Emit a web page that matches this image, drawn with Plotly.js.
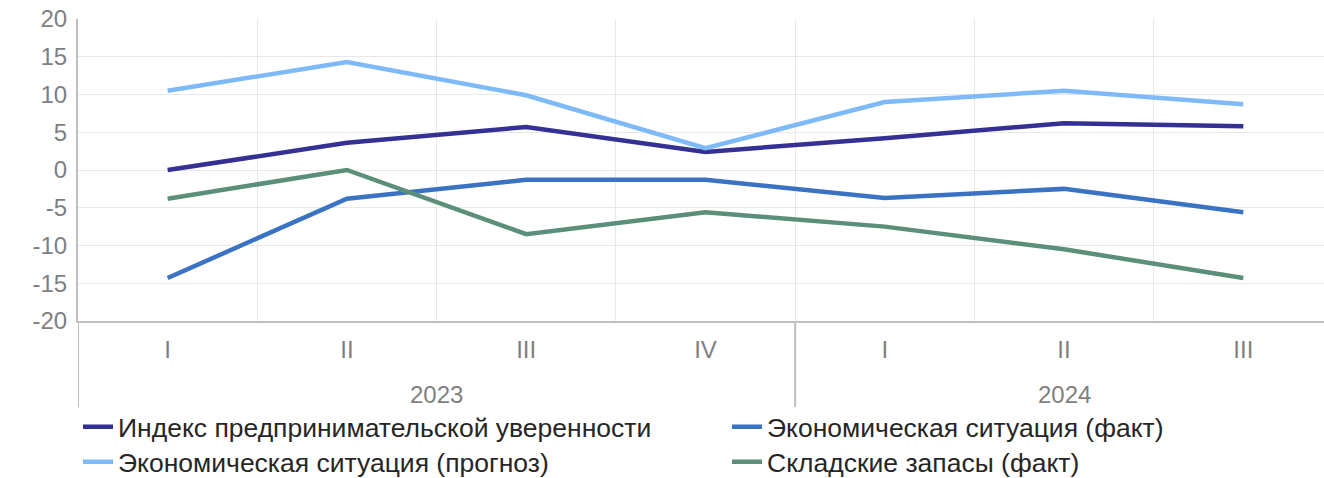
<!DOCTYPE html>
<html>
<head>
<meta charset="utf-8">
<script src="https://cdn.plot.ly/plotly-3.0.1.min.js"></script>
<style>html,body{margin:0;padding:0;background:#fff;}#chart{width:1324px;height:478px;}</style>
</head>
<body>
<div id="chart"></div>
<script>
const years = ["2023","2023","2023","2023","2024","2024","2024"];
const quarters = ["I","II","III","IV","I","II","III"];

const seriesNames = [
  "Индекс предпринимательской уверенности",
  "Экономическая ситуация (факт)",
  "Экономическая ситуация (прогноз)",
  "Складские запасы (факт)"
];
const confidenceIndex = [0, 3.6, 5.7, 2.4, 4.2, 6.2, 5.8];
const econFact = [-14.3, -3.8, -1.3, -1.3, -3.7, -2.5, -5.6];
const econForecast = [10.5, 14.3, 9.9, 2.9, 9.0, 10.5, 8.7];
const inventoryFact = [-3.8, 0, -8.5, -5.6, -7.5, -10.5, -14.3];

const yTickValues = [-20, -15, -10, -5, 0, 5, 10, 15, 20];
const yTickLabels = ["-20", "-15", "-10", "-5", "0", "5", "10", "15", "20"];

const colors = ["#343094", "#3a72c4", "#7dbaf7", "#5b8f7a"];
const values = [confidenceIndex, econFact, econForecast, inventoryFact];
const legendIds = ["legend", "legend2", "legend3", "legend4"];

const xIdx = quarters.map((_, i) => i);

const traces = values.map((v, i) => ({
  type: "scatter",
  mode: "lines",
  x: xIdx,
  y: v,
  name: seriesNames[i],
  legend: legendIds[i],
  line: {color: colors[i], width: 4.5},
  hoverinfo: "skip"
}));

// year groups: centres and boundaries derived from the years array
const groups = [];
years.forEach((y, i) => {
  const g = groups.find(o => o.year === y);
  if (g) g.last = i; else groups.push({year: y, first: i, last: i});
});

const font = "Liberation Sans, Arial, sans-serif";
const grey = "#7f7f7f";
const axisGrey = "#bfbfbf";
const gridGrey = "#e8e8e8";

const annotations = groups.map(g => ({
  xref: "x", yref: "paper",
  x: (g.first + g.last) / 2, y: -0.245,
  yanchor: "middle", xanchor: "center",
  text: g.year, showarrow: false,
  font: {family: font, size: 24, color: grey}
}));

const shapes = groups.map(g => ({
  type: "line", xref: "x", yref: "paper",
  x0: g.first - 0.5, x1: g.first - 0.5, y0: 0, y1: -0.285,
  line: {color: axisGrey, width: 2},
  layer: "above"
}));

function legendAt(px, py) {
  return {
    orientation: "h",
    xref: "container", yref: "container",
    xanchor: "left", yanchor: "middle",
    x: px / 1324, y: 1 - py / 478,
    font: {family: font, size: 26.5, color: "#262626"},
    bgcolor: "rgba(0,0,0,0)",
    itemclick: false, itemdoubleclick: false
  };
}

const layout = {
  width: 1324,
  height: 478,
  margin: {l: 78, r: 0, t: 19, b: 157},
  paper_bgcolor: "#ffffff",
  plot_bgcolor: "#ffffff",
  font: {family: font, size: 24, color: grey},
  showlegend: true,
  xaxis: {
    type: "linear",
    range: [-0.5, 6.45],
    tickmode: "array",
    tickvals: xIdx,
    ticktext: quarters,
    showgrid: false,
    minor: {
      tickmode: "array",
      tickvals: xIdx.map(i => i - 0.5).concat([xIdx.length - 0.5]),
      showgrid: true,
      gridcolor: gridGrey,
      gridwidth: 1,
      ticks: ""
    },
    showline: true,
    linecolor: axisGrey,
    linewidth: 2,
    ticks: "",
    ticklabelstandoff: 6,
    tickfont: {family: font, size: 24, color: grey},
    zeroline: false,
    fixedrange: true
  },
  yaxis: {
    range: [-20, 20],
    tickmode: "array",
    tickvals: yTickValues,
    ticktext: yTickLabels,
    showgrid: true,
    gridcolor: gridGrey,
    gridwidth: 1,
    zeroline: false,
    showline: true,
    linecolor: axisGrey,
    linewidth: 2,
    ticks: "",
    ticklabelstandoff: 4,
    tickfont: {family: font, size: 24, color: grey},
    fixedrange: true
  },
  legend: legendAt(78, 427),
  legend2: legendAt(727, 427),
  legend3: legendAt(78, 462),
  legend4: legendAt(727, 462),
  annotations: annotations,
  shapes: shapes
};

Plotly.newPlot("chart", traces, layout, {displayModeBar: false, staticPlot: true});
</script>
</body>
</html>
